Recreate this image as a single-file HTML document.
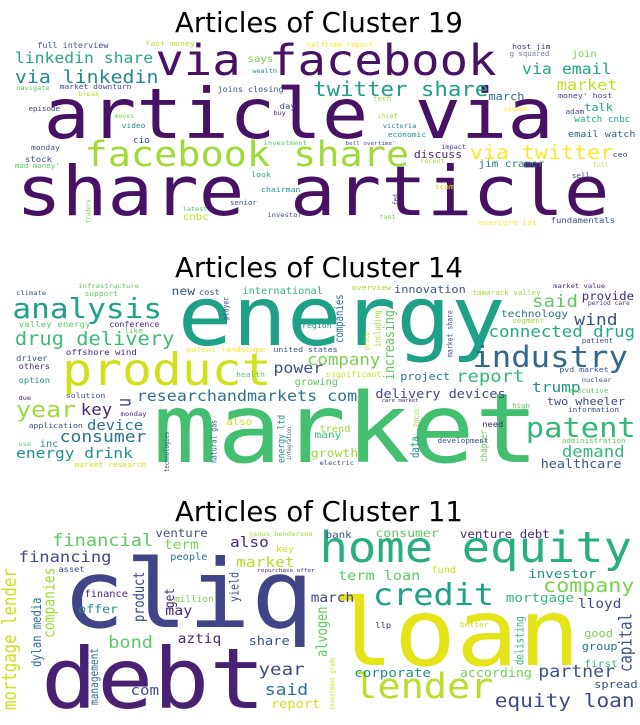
<!DOCTYPE html>
<html><head><meta charset="utf-8">
<style>
html,body{margin:0;padding:0;background:#fff;}
svg{display:block;}
.t{font-family:"DejaVu Sans","Liberation Sans",sans-serif;font-size:27.5px;fill:#000;}
.w{font-family:"DejaVu Sans Mono","Liberation Mono",monospace;}
</style></head>
<body>
<svg id="c" width="640" height="725" viewBox="0 0 640 725">
<text class="t" x="319" y="32" text-anchor="middle">Articles of Cluster 19</text>
<text class="t" x="319" y="277" text-anchor="middle">Articles of Cluster 14</text>
<text class="t" x="319" y="521" text-anchor="middle">Articles of Cluster 11</text>
</svg>
<script>
// [word, x, baselineY, fontSize, color, vertical]
const cloud19 = [
["share article",13,215,61,"#471164"],["article via",35,138,62,"#471164"],["via facebook",125,75,38,"#471164"],
["facebook share",68,166,31,"#a0da39"],["twitter share",252,96,18,"#1f9e89"],["linkedin share",12,63,13.2,"#26a784"],
["via linkedin",12,83,16,"#23898e"],["via email",420,74,13.3,"#22a884"],["via twitter",378,159,17.4,"#fde725"],
["market",448,90,13.5,"#c2df23"],["full interview",30,48,6.8,"#3b528b"],["fast money",117,46,6.6,"#b5de2b"],
["halftime report",247,47,5.9,"#fde725"],["host jim",412,49,6.4,"#46327e"],["g squared",410,56,5.9,"#6c7ea0"],
["join",460,57,8.3,"#7ad151"],["says",199,62,8.7,"#7ad151"],["wealth",203,73,5.5,"#21918c"],
["navigate",13,90,5.6,"#5ec962"],["market downturn",48,89,6.4,"#3e4989"],["break",63,96,5.6,"#b5de2b"],
["joins closing",175,92,6.8,"#3b528b"],["tech",300,101,6.2,"#a0da39"],["march",393,100,9.6,"#31688e"],
["money' host",449,98,6.6,"#443983"],["day",225,109,7.2,"#3e4989"],["talk",470,111,9.6,"#1f9e89"],
["episode",23,111,6,"#414487"],["squawk",405,111,5.5,"#fde725"],["adam",455,114,6.2,"#3e4989"],
["moves",92,118,5.3,"#7ad151"],["buy",220,115,5.5,"#482878"],["chief",304,118,5.3,"#a0da39"],
["watch cnbc",462,122,7.5,"#22a884"],["video",98,128,6.3,"#21918c"],["victoria",308,128,5.6,"#2a788e"],
["economic",312,137,6.4,"#21918c"],["email watch",457,137,8.2,"#31688e"],["cio",107,143,7.5,"#3b528b"],
["investment",212,145,5.8,"#5ec962"],["bell overtime'",278,145,4.8,"#3e4989"],["monday",25,150,6.4,"#3b528b"],
["impact",355,149,5.5,"#443983"],["discuss",333,158,9.2,"#482878"],["ceo",493,157,6.6,"#3e4989"],
["stock",20,162,7.3,"#3b528b"],["mad money'",12,168,6,"#5ec962"],["recent",338,163,5.5,"#a0da39"],
["jim cramer",385,167,8.8,"#29798e"],["full",477,167,5.4,"#b5de2b"],["look",202,177,6.6,"#22a884"],
["sell",460,178,6.2,"#3e4989"],["chairman",210,192,6.6,"#21918c"],["scam",350,189,6.2,"#d8e219"],
["senior",185,205,6,"#3b528b"],["traders",73,223,5.6,"#7ad151",1],["fed",320,205,6,"#443983",1],
["latest",147,211,5.5,"#5ec962"],["cnbc",147,220,8.7,"#c2df23"],["investor",215,217,5.8,"#3b528b"],
["fast",305,219,5.5,"#7ad151"],["evercore isi",385,225,6.5,"#fde725"],["fundamentals",443,223,7.2,"#3b528b"]
];
const cloud14 = [
["market",123,462,86,"#44bf70"],["energy",143,345,73,"#1fa187"],["product",50,385,40,"#d0e11c"],
["analysis",10,318,25,"#1fa088"],["drug delivery",12,345,16.4,"#3dbc74"],["industry",380,367,26,"#31688e"],
["patent",423,437,24.5,"#35b779"],["company",247,365,14,"#7ad151"],["year",13,417,20,"#a0da39"],
["researchandmarkets com",110,401,13.4,"#2c728e"],["u",105,407,15,"#3e4989",1],["connected drug",393,337,14,"#25ab82"],
["wind",462,325,14.5,"#3b528b"],["said",428,307,15.4,"#5ec962"],["provide",468,300,10,"#482878"],
["innovation",317,293,9.6,"#39568c"],["tamarack valley",380,295,6.1,"#a0da39"],["market value",445,288,5.8,"#482878"],
["period care",473,305,5.1,"#443983"],["international",195,294,8.3,"#35b779"],["new",138,295,10.5,"#39568c"],
["cost",160,295,7,"#3b528b"],["infrastructure",63,288,5.8,"#5ec962"],["climate",13,295,5.7,"#3b528b"],
["support",68,296,6.4,"#5ec962"],["overview",283,290,6.6,"#a0da39"],["player",184,320,6.4,"#3b528b",1],
["technology",403,317,9,"#2c728e"],["valley energy",15,327,7.4,"#5ec962"],["conference",88,327,6.7,"#482878"],
["like",100,333,6.2,"#5ec962"],["companies",276,343,9,"#2c728e",1],["region",243,328,6.6,"#21918c"],
["increasing",317,380,11.6,"#5ec962",1],["including",306,347,6.8,"#a0da39",1],["price",297,350,6,"#d0e11c",1],
["market share",364,357,6.5,"#3b528b",1],["segment",412,323,6.2,"#a0da39"],["patient",468,343,6,"#3b528b"],
["offshore wind",53,355,7.3,"#482878"],["patent landscape",150,352,6.6,"#fde725"],["united states",220,352,6.6,"#3b528b"],
["driver",13,361,7,"#3b528b"],["others",15,369,7,"#482878"],["power",220,373,13.3,"#3b528b"],
["health",190,377,6.4,"#5ec962"],["significant",262,377,6.8,"#d0e11c"],["project",322,380,9.5,"#2c728e"],
["report",367,382,15.2,"#35b779"],["trump",428,392,13,"#21918c"],["pvd market",450,372,6.6,"#3b528b"],
["nuclear",468,382,5.7,"#3b528b"],["option",15,383,7,"#21918c"],["growing",237,385,8.3,"#5ec962"],
["executive",457,393,6,"#5ec962"],["solution",53,398,6.6,"#3b528b"],["due",15,400,5.5,"#482878"],
["delivery devices",302,398,10.9,"#3e4989"],["two wheeler",440,405,9.5,"#3e4989"],["care market",307,402,4.5,"#482878"],
["high",412,408,6,"#5ec962"],["monday",97,416,5.8,"#482878"],["information",457,412,6.2,"#3b528b"],
["key",65,415,14,"#482878"],["device",70,430,12.5,"#2c728e"],["application",23,428,6.6,"#3b528b"],
["also",182,425,8.7,"#d0e11c"],["trend",257,432,8.3,"#a0da39"],["need",388,427,7,"#482878"],
["energy ltd",229,463,8,"#21918c",1],["natural gas",174,463,6.5,"#3b528b",1],["integration",234,460,5,"#3b528b",1],
["technologies",136,472,5.6,"#3b528b",1],["focus",337,427,6.2,"#a0da39",1],["data",337,458,9,"#21918c",1],
["chapter",392,462,7.6,"#5ec962",1],["consumer",48,442,14.5,"#2c728e"],["many",253,438,9,"#35b779"],
["development",352,443,6.2,"#3b528b"],["administration",452,443,6.1,"#5ec962"],["use",15,446,5.5,"#5ec962"],
["inc",32,447,8.3,"#21918c"],["energy drink",13,458,13,"#21918c"],["growth",250,457,10.6,"#a0da39"],
["demand",452,457,14,"#35b779"],["healthcare",435,468,10.8,"#3b528b"],["market research",60,467,6.4,"#d0e11c"],
["electric",257,465,5.8,"#3b528b"]
];
const cloud11 = [
["loan",267,665,83,"#e4e419"],["debt",33,708,75,"#482173"],["cliq",50,627,84,"#414487"],
["home equity",257,562,38,"#29af7f"],["credit",300,605,27,"#1fa187"],["lender",285,698,31,"#b8de29"],
["equity loan",398,707,17,"#3e4989"],["partner",433,677,14.7,"#3b528b"],["capital",508,672,14,"#3b528b",1],
["company",437,592,17.4,"#7ad151"],["investor",425,578,11.4,"#21918c"],["mortgage",407,602,11.4,"#35b779"],
["lloyd",465,608,11.6,"#3e4989"],["venture debt",370,538,10,"#482878"],["consumer",302,537,10.6,"#5ec962"],
["bank",262,538,8.7,"#3b528b"],["janus henderson",200,536,5.7,"#a0da39"],["venture",125,537,10,"#3b528b"],
["financial",42,546,15,"#5ec962"],["term",132,549,11.6,"#7ad151"],["also",185,547,13,"#482878"],
["key",222,552,8,"#d0e11c"],["financing",15,562,13.8,"#3e4989"],["people",137,560,8.3,"#2c728e"],
["market",190,567,13,"#b5de2b"],["asset",47,572,7,"#3b528b"],["repurchase offer",207,572,4.8,"#482878"],
["fund",347,573,8.3,"#d0e11c"],["term loan",272,580,12.2,"#5ec962"],["mortgage lender",13,710,15.7,"#d0e11c",1],
["dylan media",33,667,10.5,"#2c728e",1],["companies",44,638,13,"#a0da39",1],["finance",68,597,8.3,"#482878"],
["get",140,608,11,"#482878",1],["product",116,622,12,"#3e4989",1],["yield",192,602,10,"#3b528b",1],
["million",140,602,7.6,"#7ad151"],["march",250,602,11.6,"#3e4989"],["offer",63,613,10.6,"#21918c"],
["may",133,615,12,"#482878"],["bond",87,648,15,"#5ec962"],["aztiq",143,643,11.6,"#482878"],
["alvogen",263,657,12,"#5ec962",1],["llp",302,628,7,"#482878"],["better",370,627,6.4,"#d0e11c"],
["delisting",421,665,9,"#35b779",1],["good",470,637,9.6,"#7ad151"],["group",468,650,9.6,"#2c728e"],
["first",470,667,9,"#35b779"],["spread",478,688,9.7,"#3b528b"],["share",200,645,11,"#3b528b"],
["management",79,705,9.5,"#2c728e",1],["investment grade",269,710,5.5,"#d0e11c",1],["year",208,675,15.4,"#3e4989"],
["corporate",285,677,11.4,"#21918c"],["according",370,677,10.7,"#7ad151"],["said",213,695,14.5,"#2c728e"],
["com",105,695,12.7,"#3b528b"],["report",218,708,11,"#d0e11c"]
];
const XSCALE = 1.243;
const FS = 1.12;
const svg = document.getElementById('c');
const NS = 'http://www.w3.org/2000/svg';
function draw(list, cid){
  const g = document.createElementNS(NS,'g');
  
  
  g.setAttribute('transform', 'scale(' + XSCALE + ',1)');
  svg.appendChild(g);
  list.forEach(function(d){
    const t = document.createElementNS(NS,'text');
    t.setAttribute('class','w');
    t.setAttribute('y', d[2]);
    t.setAttribute('fill', d[4]);
    if (d[5]) {
      t.setAttribute('x', d[1]);
      t.setAttribute('font-size', d[3]);
      t.setAttribute('transform', 'rotate(-90 ' + d[1] + ' ' + d[2] + ')');
    } else {
      // taller glyphs, compressed back horizontally so width stays the same
      t.setAttribute('x', d[1] * FS);
      t.setAttribute('font-size', d[3] * FS);
      t.setAttribute('transform', 'scale(' + (1 / FS) + ',1)');
    }
    t.textContent = d[0];
    
    
    g.appendChild(t);
  });
}
draw(cloud19,'cluster-19');
draw(cloud14,'cluster-14');
draw(cloud11,'cluster-11');
</script>
</body></html>
